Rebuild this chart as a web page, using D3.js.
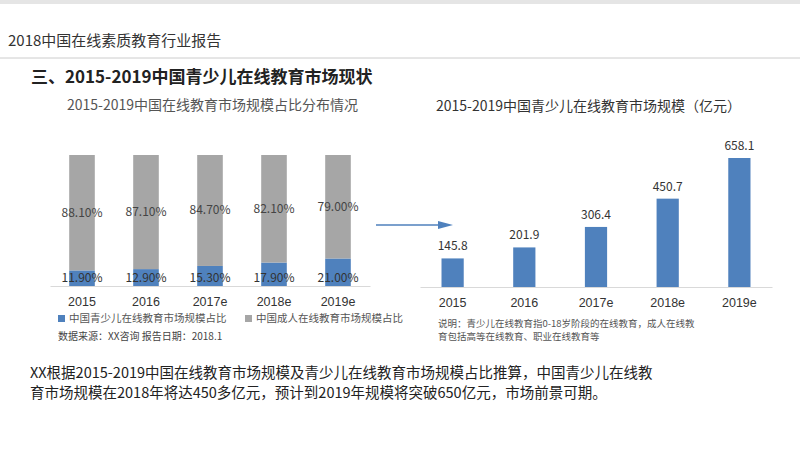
<!DOCTYPE html>
<html><head><meta charset="utf-8">
<script src="https://cdn.jsdelivr.net/npm/d3@7"></script>
<style>body{margin:0;background:#fff}svg{font-family:"Noto Sans CJK SC","Noto Sans",sans-serif}</style>
</head><body><svg id="c" width="800" height="450"></svg>
<script>
const years = ["2015", "2016", "2017e", "2018e", "2019e"];
const youthShare = [11.9, 12.9, 15.3, 17.9, 21.0];
const adultShare = [88.1, 87.1, 84.7, 82.1, 79.0];
const youthMarket = [145.8, 201.9, 306.4, 450.7, 658.1];

const svg = d3.select("#c");
const blue = "#4f81bd", gray = "#a6a6a6";

// header
svg.append("rect").attr("x", 0).attr("y", 0).attr("width", 800).attr("height", 4).attr("fill", "#e5e5e5");
svg.append("text").attr("x", 8).attr("y", 46).attr("font-size", 15).attr("fill", "#333").text("2018中国在线素质教育行业报告");
svg.append("line").attr("x1", 0).attr("x2", 800).attr("y1", 58).attr("y2", 58).attr("stroke", "#ccc");
svg.append("text").attr("x", 31).attr("y", 83).attr("font-size", 17).attr("font-weight", "bold").attr("fill", "#222").text("三、2015-2019中国青少儿在线教育市场现状");

// left chart
const lx = d3.scaleBand().domain(years).range([50, 370]).paddingInner(0.6).paddingOuter(0.3);
const ly = d3.scaleLinear().domain([0, 100]).range([286, 155]);
const left = svg.append("g");
left.append("text").attr("x", 67).attr("y", 110).attr("font-size", 14).attr("fill", "#555").text("2015-2019中国在线教育市场规模占比分布情况");
left.selectAll(".ya").data(years).join("rect")
  .attr("x", d => lx(d)).attr("width", lx.bandwidth())
  .attr("y", (d, i) => ly(youthShare[i])).attr("height", (d, i) => ly(0) - ly(youthShare[i])).attr("fill", blue);
left.selectAll(".ad").data(years).join("rect")
  .attr("x", d => lx(d)).attr("width", lx.bandwidth())
  .attr("y", (d, i) => ly(youthShare[i] + adultShare[i])).attr("height", (d, i) => ly(0) - ly(adultShare[i])).attr("fill", gray);
left.selectAll(".al").data(years).join("text")
  .attr("x", d => lx(d) + lx.bandwidth() / 2).attr("y", (d, i) => ly(youthShare[i] + adultShare[i] / 2) + 4)
  .attr("text-anchor", "middle").attr("font-size", 12).attr("fill", "#444").text((d, i) => adultShare[i].toFixed(2) + "%");
left.selectAll(".yl").data(years).join("text")
  .attr("x", d => lx(d) + lx.bandwidth() / 2).attr("y", 282)
  .attr("text-anchor", "middle").attr("font-size", 12).attr("fill", "#333").text((d, i) => youthShare[i].toFixed(2) + "%");
left.append("g").attr("transform", "translate(0,286)")
  .call(d3.axisBottom(lx).tickSize(0).tickPadding(11))
  .call(s => s.select(".domain").attr("stroke", "#d9d9d9"))
  .call(s => s.selectAll("text").attr("font-size", 12.5).attr("fill", "#333").attr("font-family", "inherit"));
left.append("rect").attr("x", 58).attr("y", 315).attr("width", 7).attr("height", 7).attr("fill", blue);
left.append("text").attr("x", 69).attr("y", 322).attr("font-size", 10.5).attr("fill", "#555").text("中国青少儿在线教育市场规模占比");
left.append("rect").attr("x", 245).attr("y", 315).attr("width", 7).attr("height", 7).attr("fill", gray);
left.append("text").attr("x", 256).attr("y", 322).attr("font-size", 10.5).attr("fill", "#555").text("中国成人在线教育市场规模占比");
left.append("text").attr("x", 58).attr("y", 340).attr("font-size", 10).attr("fill", "#444").text("数据来源：XX咨询  报告日期：2018.1");

// arrow
svg.append("line").attr("x1", 376).attr("x2", 440).attr("y1", 225).attr("y2", 225).attr("stroke", "#4f81bd").attr("stroke-width", 1.3);
svg.append("path").attr("d", "M438,221L453,225L438,229Z").attr("fill", "#4f81bd");

// right chart
const rx = d3.scaleBand().domain(years).range([420, 772]).paddingInner(0.69).paddingOuter(0.3);
const ry = d3.scaleLinear().domain([0, 658.1]).range([287, 158]);
const right = svg.append("g");
right.append("text").attr("x", 436).attr("y", 111).attr("font-size", 14).attr("fill", "#333").text("2015-2019中国青少儿在线教育市场规模（亿元）");
right.selectAll(".b").data(years).join("rect")
  .attr("x", d => rx(d)).attr("width", rx.bandwidth())
  .attr("y", (d, i) => ry(youthMarket[i])).attr("height", (d, i) => ry(0) - ry(youthMarket[i])).attr("fill", blue);
right.selectAll(".bl").data(years).join("text")
  .attr("x", d => rx(d) + rx.bandwidth() / 2).attr("y", (d, i) => ry(youthMarket[i]) - 8)
  .attr("text-anchor", "middle").attr("font-size", 12).attr("fill", "#333").text((d, i) => youthMarket[i].toFixed(1));
right.append("g").attr("transform", "translate(0,287)")
  .call(d3.axisBottom(rx).tickSize(0).tickPadding(11))
  .call(s => s.select(".domain").attr("stroke", "#d9d9d9"))
  .call(s => s.selectAll("text").attr("font-size", 12.5).attr("fill", "#333").attr("font-family", "inherit"));
right.append("text").attr("x", 438).attr("y", 327).attr("font-size", 9.5).attr("fill", "#555").text("说明：青少儿在线教育指0-18岁阶段的在线教育，成人在线教");
right.append("text").attr("x", 438).attr("y", 340).attr("font-size", 9.5).attr("fill", "#555").text("育包括高等在线教育、职业在线教育等");

// paragraph
svg.append("text").attr("x", 30).attr("y", 378).attr("font-size", 14.5).attr("fill", "#222").text("XX根据2015-2019中国在线教育市场规模及青少儿在线教育市场规模占比推算，中国青少儿在线教");
svg.append("text").attr("x", 30).attr("y", 398).attr("font-size", 14.5).attr("fill", "#222").text("育市场规模在2018年将达450多亿元，预计到2019年规模将突破650亿元，市场前景可期。");
</script></body></html>
